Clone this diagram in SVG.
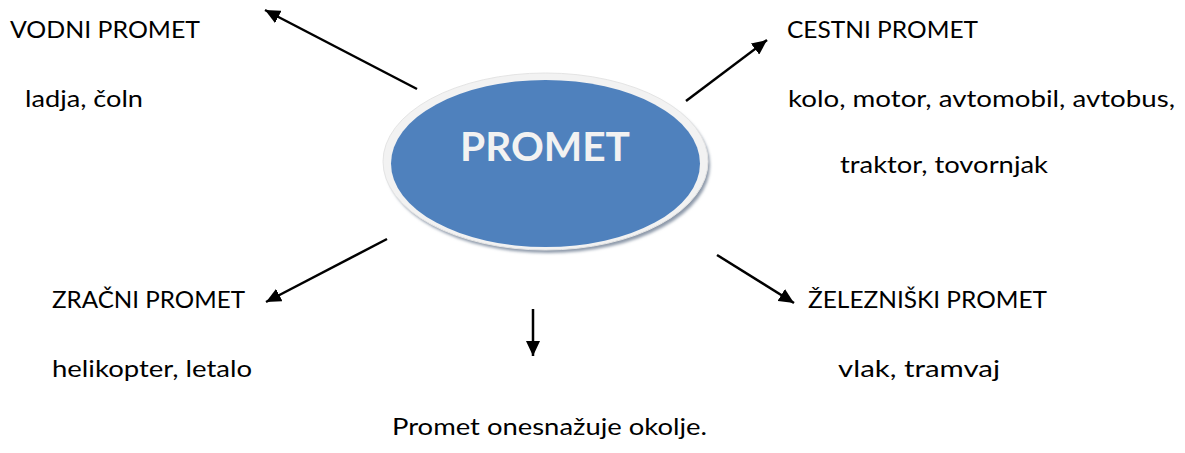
<svg xmlns="http://www.w3.org/2000/svg" width="1185" height="453" viewBox="0 0 1185 453">
<style>
.t{font-family:Lato,"Liberation Sans",sans-serif;font-size:22.5px;fill:#000}
.c{stroke:#000;stroke-width:2.5;fill:none;marker-end:url(#ah)}
</style>
<defs>
<marker id="ah" markerUnits="userSpaceOnUse" markerWidth="16" markerHeight="14" refX="15" refY="7" orient="auto">
<path d="M0,0 L15,7 L0,14 z" fill="#000"/>
</marker>
<filter id="sh" x="-10%" y="-10%" width="120%" height="130%"><feGaussianBlur stdDeviation="1.5"/></filter>
</defs>
<rect width="1185" height="453" fill="#fff"/>
<g id="connectors">
<line class="c" x1="417" y1="89" x2="265" y2="10"/>
<line class="c" x1="686" y1="101" x2="767" y2="40"/>
<line class="c" x1="387" y1="239" x2="266" y2="302"/>
<line class="c" x1="717" y1="255" x2="794" y2="303"/>
<line class="c" x1="533" y1="309" x2="533" y2="356"/>
</g>
<g id="promet">
<ellipse cx="548" cy="165" rx="162" ry="88" fill="#8e9aaa" filter="url(#sh)"/>
<ellipse cx="545.5" cy="161.5" rx="162.5" ry="88.5" fill="#f2f2f2" stroke="#e4e4e4" stroke-width="1"/>
<ellipse cx="545.5" cy="163.5" rx="154.5" ry="83.5" fill="#4f81bd"/>
<text x="545" y="161" text-anchor="middle" font-family="Lato,'Open Sans',sans-serif" font-weight="bold" font-size="41" fill="#f2f2f2" textLength="170" lengthAdjust="spacingAndGlyphs">PROMET</text>
</g>
<g id="vodni">
<text class="t" x="10" y="38" textLength="190" lengthAdjust="spacingAndGlyphs">VODNI PROMET</text>
<text class="t" x="25" y="107" textLength="118" lengthAdjust="spacingAndGlyphs">ladja, čoln</text>
</g>
<g id="cestni">
<text class="t" x="787" y="38" textLength="191" lengthAdjust="spacingAndGlyphs">CESTNI PROMET</text>
<text class="t" x="788" y="107" textLength="387" lengthAdjust="spacingAndGlyphs">kolo, motor, avtomobil, avtobus,</text>
<text class="t" x="840" y="173" textLength="208" lengthAdjust="spacingAndGlyphs">traktor, tovornjak</text>
</g>
<g id="zracni">
<text class="t" x="52" y="308" textLength="193" lengthAdjust="spacingAndGlyphs">ZRAČNI PROMET</text>
<text class="t" x="52" y="377" textLength="200" lengthAdjust="spacingAndGlyphs">helikopter, letalo</text>
</g>
<g id="zelezniski">
<text class="t" x="808" y="308" textLength="239" lengthAdjust="spacingAndGlyphs">ŽELEZNIŠKI PROMET</text>
<text class="t" x="838" y="377" textLength="162" lengthAdjust="spacingAndGlyphs">vlak, tramvaj</text>
</g>
<g id="okolje">
<text class="t" x="392" y="435" textLength="315" lengthAdjust="spacingAndGlyphs">Promet onesnažuje okolje.</text>
</g>
</svg>
